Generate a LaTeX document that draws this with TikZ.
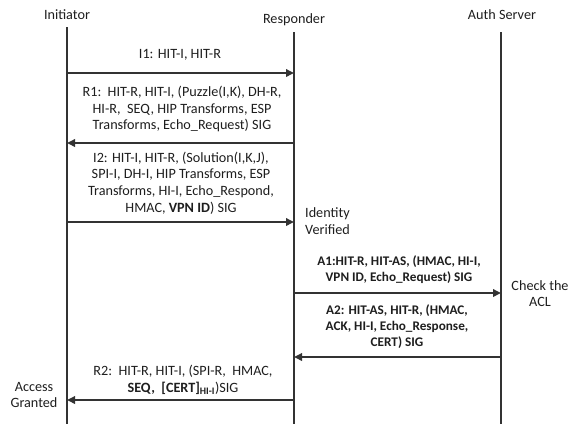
\documentclass[tikz,border=0pt]{standalone}
\usepackage{fontspec}
\setmainfont{Carlito}
\usepackage{tikz}
\usetikzlibrary{arrows.meta}

\definecolor{linegray}{RGB}{51,51,51}
\definecolor{txtgray}{RGB}{30,30,30}

\tikzset{
  life/.style={draw=linegray, line width=2pt},
  msg/.style={draw=linegray, line width=1.8pt, -{Triangle[length=8pt,width=7.5pt]}},
  lbl/.style={align=center, inner sep=0pt, text=txtgray, font=\fontsize{14.2}{16.6}\selectfont},
  blbl/.style={lbl, font=\bfseries\fontsize{13.2}{16}\selectfont},
}

\begin{document}
\begin{tikzpicture}[x=1pt,y=1pt,yscale=-1,xscale=1]
\useasboundingbox (0,0) rectangle (572,424);

% Lifelines
\coordinate (iniTop) at (67,27);  \coordinate (iniBot) at (67,424);
\coordinate (resTop) at (294,32); \coordinate (resBot) at (294,424);
\coordinate (autTop) at (501,32); \coordinate (autBot) at (501,424);
\draw[life] (iniTop) -- (iniBot);
\draw[life] (resTop) -- (resBot);
\draw[life] (autTop) -- (autBot);

% Message levels
\coordinate (yI1) at (0,73);
\coordinate (yR1) at (0,143);
\coordinate (yI2) at (0,222);
\coordinate (yA1) at (0,293);
\coordinate (yA2) at (0,357);
\coordinate (yR2) at (0,400);

% Straight Lines
\draw[msg] (yI1 -| iniTop) -- (yI1 -| resTop);
\draw[msg] (yR1 -| resTop) -- (yR1 -| iniTop);
\draw[msg] (yI2 -| iniTop) -- (yI2 -| resTop);
\draw[msg] (yA1 -| resTop) -- (yA1 -| autTop);
\draw[msg] (yA2 -| autTop) -- (yA2 -| resTop);
\draw[msg] (yR2 -| resTop) -- (yR2 -| iniTop);

% Text Node
\node[lbl] (ini) at (67,15) {Initiator};
\node[lbl] (res) at (294,20) {Responder};
\node[lbl] (aut) at (502,15) {Auth Server};
% Text Node
\node[lbl] (i1) at (180,55) {I1: HIT-I, HIT-R};
\node[lbl] (r1) at (182,109) {R1:\ \ HIT-R, HIT-I, (Puzzle(I,K), DH-R,\\HI-R,\ \ SEQ, HIP Transforms, ESP\\Transforms, Echo\_Request) SIG};
\node[lbl] (i2) at (181,183) {I2: HIT-I, HIT-R, (Solution(I,K,J),\\SPI-I, DH-I, HIP Transforms, ESP\\Transforms, HI-I, Echo\_Respond,\\HMAC, \textbf{VPN ID}) SIG};
\node[lbl, align=left, anchor=west] (idv) at (305,221) {Identity\\Verified};
\node[blbl] (a1) at (399,269.5) {A1:HIT-R, HIT-AS, (HMAC, HI-I,\\VPN ID, Echo\_Request) SIG};
\node[lbl] (acl) at (540,293.5) {Check the\\ACL};
\node[blbl] (a2) at (397,327) {A2: HIT-AS, HIT-R, (HMAC,\\ACK, HI-I, Echo\_Response,\\CERT) SIG};
\node[lbl] (r2) at (183,380) {R2:\ \ HIT-R, HIT-I, (SPI-R,\ \ HMAC,\\\textbf{SEQ,\ \ [CERT]\textsubscript{HI-I}})SIG};
\node[lbl] (acc) at (34,395) {Access\\Granted};

\end{tikzpicture}
\end{document}
